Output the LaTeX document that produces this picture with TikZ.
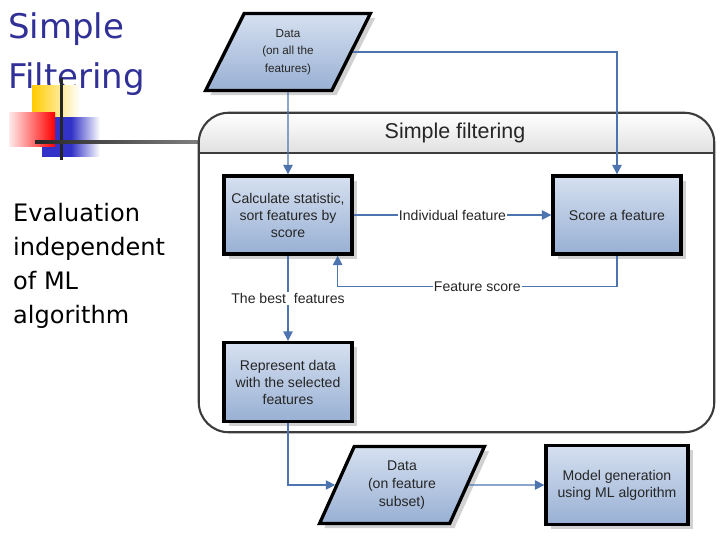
\documentclass[tikz,border=0pt]{standalone}
\usepackage{fontspec}
\setmainfont{Liberation Sans}
\newfontfamily\slidefont{DejaVu Sans}
\usetikzlibrary{shapes.geometric}
\usetikzlibrary{arrows.meta}
\usetikzlibrary{shadows}

\definecolor{slideblue}{RGB}{48,48,150}
\definecolor{boxtop}{RGB}{214,224,240}
\definecolor{boxbot}{RGB}{152,176,212}
\definecolor{flowblue}{RGB}{78,116,176}
\definecolor{framegray}{RGB}{60,60,60}

\begin{document}
\begin{tikzpicture}[x=0.03cm, y=-0.03cm,
  proc/.style 2 args={rectangle, draw=black, line width=2.8pt, top color=boxtop, bottom color=boxbot,
    minimum width=#1, minimum height=#2, align=center, text=black!85,
    font=\fontsize{12}{14.5}\selectfont,
    drop shadow={shadow xshift=4pt, shadow yshift=-4pt, fill=black!30, opacity=0.6}},
  data/.style={trapezium, trapezium left angle=64, trapezium right angle=116, trapezium stretches=true,
    draw=black, line width=2.8pt, top color=boxtop, bottom color=boxbot,
    minimum width=4.95cm, minimum height=2.31cm, align=center, text=black!85,
    drop shadow={shadow xshift=4pt, shadow yshift=-4pt, fill=black!30, opacity=0.6}},
  flow/.style={draw=flowblue, line width=1pt, -{Triangle[length=8pt, width=8pt]}},
  lbl/.style={fill=white, inner sep=1pt, text=black!85, font=\fontsize{12}{14}\selectfont}]

  \useasboundingbox (0,0) rectangle (720,540);

  %% slide title and side text
  \node[anchor=north west, align=left, text=slideblue, inner sep=0pt,
    font=\slidefont\fontsize{29}{42.7}\selectfont] (title) at (8,12) {Simple\\Filtering};
  \node[anchor=north west, align=left, inner sep=0pt,
    font=\slidefont\fontsize{20.5}{29}\selectfont] (side) at (13,203) {Evaluation\\independent\\of ML\\algorithm};

  %% bullet decoration
  \shade[left color={rgb,255:red,255;green,204;blue,0}, right color=white] (32,86) rectangle (80,120);
  \shade[left color={rgb,255:red,50;green,50;blue,200}, right color=white, middle color={rgb,255:red,50;green,50;blue,200}] (42,118) rectangle (100,157);
  \shade[left color=red!8, right color=red] (9,113) rectangle (55,147);
  \fill[black!85] (60,78) rectangle (62.5,160);
  \shade[left color=black!85, right color=black!50] (35,141) rectangle (200,143.5);

  %% container
  \node[rectangle, minimum width=15.45cm, minimum height=9.57cm] (filter) at (456.5,272.5) {};
  \begin{scope}
    \clip[rounded corners=0.9cm] (filter.north west) rectangle (filter.south east);
    \shade[top color=white, bottom color=black!12] (filter.north west) rectangle (714,153);
    \draw[framegray, line width=1.6pt] (199,153) -- (714,153);
  \end{scope}
  \draw[framegray, line width=1.8pt, rounded corners=0.9cm] (filter.north west) rectangle (filter.south east);
  \node[font=\fontsize{18.3}{20}\selectfont, text=black!85] (filtertitle) at (455,133) {Simple filtering};

  %% blocks
  \node[data, font=\fontsize{10}{15}\selectfont] (alldata) at (288,52) {Data\\(on all the\\features)};
  \node[proc={3.84cm}{2.34cm}] (calc) at (288,215) {Calculate statistic,\\sort features by\\score};
  \node[proc={3.84cm}{2.34cm}] (score) at (617,215) {Score a feature};
  \node[proc={3.84cm}{2.37cm}] (repr) at (288,382) {Represent data\\with the selected\\features};
  \node[data, font=\fontsize{12}{15.4}\selectfont] (subdata) at (402,485) {Data\\(on feature\\subset)};
  \node[proc={4.26cm}{2.37cm}] (model) at (617,485) {Model generation\\using ML algorithm};

  %% connectors
  \draw[flow] (alldata.south) -- (calc.north);
  \draw[flow] (alldata.east) -| (score.north);
  \draw[flow] (calc.east) -- node[lbl] {Individual feature} (score.west);
  \draw[flow] (score.south) -- ++(0,31) -| node[lbl, pos=0.25] {Feature score} ([xshift=-0.48cm]calc.south east);
  \draw[flow] (calc.south) -- node[lbl] {The best\ \ features} (repr.north);
  \draw[flow] (repr.south) |- (subdata.west);
  \draw[flow] (subdata.east) -- (model.west);

\end{tikzpicture}
\end{document}
